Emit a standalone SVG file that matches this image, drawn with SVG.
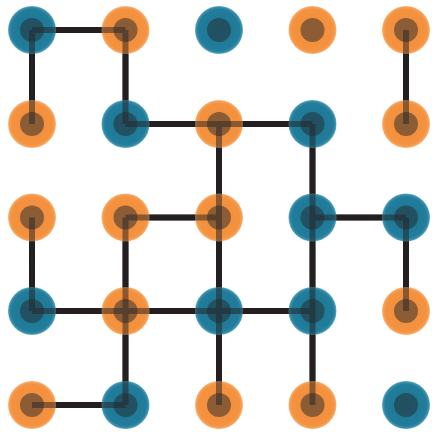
<svg xmlns="http://www.w3.org/2000/svg" xmlns:xlink="http://www.w3.org/1999/xlink" width="432" height="432" viewBox="0 0 432 432">
  <defs>
    <radialGradient id="gBlue" cx="0.5" cy="0.5" r="0.5">
      <stop offset="0" stop-color="#1c7693"/>
      <stop offset="0.86" stop-color="#217d9b"/>
      <stop offset="0.95" stop-color="#3a8fac"/>
      <stop offset="1" stop-color="#6fb0c6"/>
    </radialGradient>
    <radialGradient id="gOrange" cx="0.5" cy="0.5" r="0.5">
      <stop offset="0" stop-color="#f28d3b"/>
      <stop offset="0.86" stop-color="#f4923f"/>
      <stop offset="0.95" stop-color="#f5a157"/>
      <stop offset="1" stop-color="#f8bb86"/>
    </radialGradient>
    <style>
      .edge { stroke: #231f20; stroke-width: 6; fill: none; stroke-linecap: butt; }
      .shade { opacity: 0.5; }
      .ring { stroke: none; }
      .blue .ring { fill: url(#gBlue); }
      .orange .ring { fill: url(#gOrange); }
      .core { fill: #262a2e; opacity: 0.5; }
    </style>
  </defs>
  <rect width="432" height="432" fill="#ffffff"/>

  <!-- connectors -->
  <g id="connectors">
    <line class="edge" x1="32" y1="30" x2="125.5" y2="30"/>
    <line class="edge" x1="32" y1="30" x2="32" y2="124"/>
    <line class="edge" x1="125.5" y1="30" x2="125.5" y2="124"/>
    <line class="edge" x1="406" y1="30" x2="406" y2="124"/>
    <line class="edge" x1="125.5" y1="124" x2="312.5" y2="124"/>
    <line class="edge" x1="219" y1="124" x2="219" y2="217.5"/>
    <line class="edge" x1="312.5" y1="124" x2="312.5" y2="217.5"/>
    <line class="edge" x1="125.5" y1="217.5" x2="219" y2="217.5"/>
    <line class="edge" x1="312.5" y1="217.5" x2="406" y2="217.5"/>
    <line class="edge" x1="32" y1="217.5" x2="32" y2="311"/>
    <line class="edge" x1="125.5" y1="217.5" x2="125.5" y2="311"/>
    <line class="edge" x1="219" y1="217.5" x2="219" y2="311"/>
    <line class="edge" x1="312.5" y1="217.5" x2="312.5" y2="311"/>
    <line class="edge" x1="406" y1="217.5" x2="406" y2="311"/>
    <line class="edge" x1="32" y1="311" x2="312.5" y2="311"/>
    <line class="edge" x1="125.5" y1="311" x2="125.5" y2="405"/>
    <line class="edge" x1="219" y1="311" x2="219" y2="405"/>
    <line class="edge" x1="312.5" y1="311" x2="312.5" y2="405"/>
    <line class="edge" x1="32" y1="405" x2="125.5" y2="405"/>
  </g>

  <!-- outer rings of the nodes -->
  <g id="rings">
    <g id="n00" class="blue"><circle class="ring" cx="32" cy="30" r="24"/></g>
    <g id="n01" class="orange"><circle class="ring" cx="125.5" cy="30" r="24"/></g>
    <g id="n02" class="blue"><circle class="ring" cx="219" cy="30" r="24"/></g>
    <g id="n03" class="orange"><circle class="ring" cx="312.5" cy="30" r="24"/></g>
    <g id="n04" class="orange"><circle class="ring" cx="406" cy="30" r="24"/></g>

    <g id="n10" class="orange"><circle class="ring" cx="32" cy="124" r="24"/></g>
    <g id="n11" class="blue"><circle class="ring" cx="125.5" cy="124" r="24"/></g>
    <g id="n12" class="orange"><circle class="ring" cx="219" cy="124" r="24"/></g>
    <g id="n13" class="blue"><circle class="ring" cx="312.5" cy="124" r="24"/></g>
    <g id="n14" class="orange"><circle class="ring" cx="406" cy="124" r="24"/></g>

    <g id="n20" class="orange"><circle class="ring" cx="32" cy="217.5" r="24"/></g>
    <g id="n21" class="orange"><circle class="ring" cx="125.5" cy="217.5" r="24"/></g>
    <g id="n22" class="orange"><circle class="ring" cx="219" cy="217.5" r="24"/></g>
    <g id="n23" class="blue"><circle class="ring" cx="312.5" cy="217.5" r="24"/></g>
    <g id="n24" class="blue"><circle class="ring" cx="406" cy="217.5" r="24"/></g>

    <g id="n30" class="blue"><circle class="ring" cx="32" cy="311" r="24"/></g>
    <g id="n31" class="orange"><circle class="ring" cx="125.5" cy="311" r="24"/></g>
    <g id="n32" class="blue"><circle class="ring" cx="219" cy="311" r="24"/></g>
    <g id="n33" class="blue"><circle class="ring" cx="312.5" cy="311" r="24"/></g>
    <g id="n34" class="orange"><circle class="ring" cx="406" cy="311" r="24"/></g>

    <g id="n40" class="orange"><circle class="ring" cx="32" cy="405" r="24"/></g>
    <g id="n41" class="blue"><circle class="ring" cx="125.5" cy="405" r="24"/></g>
    <g id="n42" class="orange"><circle class="ring" cx="219" cy="405" r="24"/></g>
    <g id="n43" class="orange"><circle class="ring" cx="312.5" cy="405" r="24"/></g>
    <g id="n44" class="blue"><circle class="ring" cx="406" cy="405" r="24"/></g>
  </g>

  <!-- translucent wires showing through the rings -->
  <use xlink:href="#connectors" href="#connectors" class="shade"/>

  <!-- translucent node cores -->
  <g id="cores">
    <circle class="core" cx="32" cy="30" r="12"/>
    <circle class="core" cx="125.5" cy="30" r="12"/>
    <circle class="core" cx="219" cy="30" r="12"/>
    <circle class="core" cx="312.5" cy="30" r="12"/>
    <circle class="core" cx="406" cy="30" r="12"/>
    <circle class="core" cx="32" cy="124" r="12"/>
    <circle class="core" cx="125.5" cy="124" r="12"/>
    <circle class="core" cx="219" cy="124" r="12"/>
    <circle class="core" cx="312.5" cy="124" r="12"/>
    <circle class="core" cx="406" cy="124" r="12"/>
    <circle class="core" cx="32" cy="217.5" r="12"/>
    <circle class="core" cx="125.5" cy="217.5" r="12"/>
    <circle class="core" cx="219" cy="217.5" r="12"/>
    <circle class="core" cx="312.5" cy="217.5" r="12"/>
    <circle class="core" cx="406" cy="217.5" r="12"/>
    <circle class="core" cx="32" cy="311" r="12"/>
    <circle class="core" cx="125.5" cy="311" r="12"/>
    <circle class="core" cx="219" cy="311" r="12"/>
    <circle class="core" cx="312.5" cy="311" r="12"/>
    <circle class="core" cx="406" cy="311" r="12"/>
    <circle class="core" cx="32" cy="405" r="12"/>
    <circle class="core" cx="125.5" cy="405" r="12"/>
    <circle class="core" cx="219" cy="405" r="12"/>
    <circle class="core" cx="312.5" cy="405" r="12"/>
    <circle class="core" cx="406" cy="405" r="12"/>
  </g>
</svg>
